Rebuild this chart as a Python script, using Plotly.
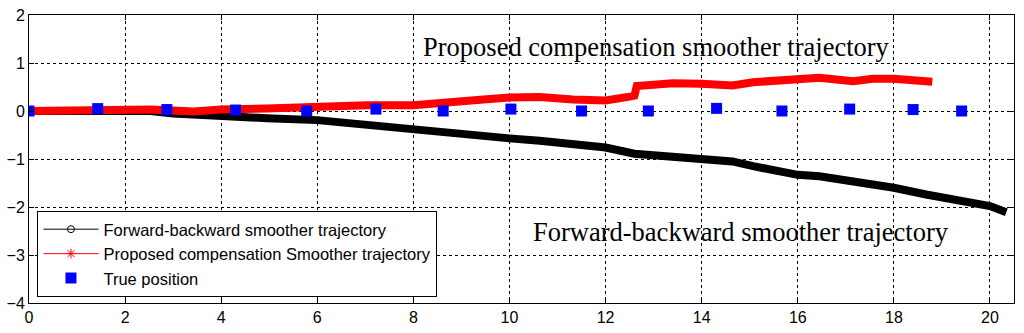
import plotly.graph_objects as go

# Forward-backward smoother trajectory (black)
fb_x = [0, 1.0, 2.0, 2.53, 3.0, 3.43, 4.0, 4.95, 6.0, 6.68, 7.0, 8.0, 8.56, 9.0, 10.0, 10.63,
        11.32, 12.0, 12.6, 13.4, 14.0, 14.37, 14.64, 15.07, 16.0, 16.45, 17.15, 18.0,
        18.67, 19.23, 20.0, 20.34]
fb_y = [0, 0.0, -0.01, 0.0, -0.05, -0.08, -0.12, -0.15, -0.19, -0.26, -0.29, -0.36, -0.43, -0.46,
        -0.57, -0.62, -0.69, -0.76, -0.89, -0.96, -0.98, -1.01, -1.05, -1.15, -1.33, -1.36,
        -1.46, -1.60, -1.74, -1.84, -1.98, -2.11]

# Proposed compensation smoother trajectory (red)
pc_x = [0, 1.0, 1.5, 2.0, 2.53, 3.43, 4.0, 4.95, 6.0, 7.03, 8.0, 8.56, 8.76, 9.46, 10.0, 10.63,
        11.32, 12.0, 12.5, 12.6, 12.65, 13.4, 14.0, 14.37, 14.64, 15.07, 16.0, 16.45, 17.15,
        17.56, 18.0, 18.74, 18.8]
pc_y = [0, 0.02, 0.05, 0.03, 0.03, -0.01, 0.03, 0.05, 0.09, 0.12, 0.12, 0.18, 0.17, 0.24, 0.28,
        0.29, 0.24, 0.22, 0.30, 0.32, 0.52, 0.58, 0.57, 0.53, 0.53, 0.60, 0.65, 0.69, 0.62,
        0.67, 0.67, 0.60, 0.61]

# True position (blue squares)
tp_x = [0, 1.43, 2.87, 4.3, 5.78, 7.22, 8.62, 10.03, 11.5, 12.89, 14.31, 15.67, 17.08, 18.40, 19.41]
tp_y = [0, 0.05, 0.03, 0.02, 0, 0.04, 0, 0.04, 0, 0, 0.055, 0, 0.04, 0.03, 0]

x_ticks = [0, 2, 4, 6, 8, 10, 12, 14, 16, 18, 20]
y_ticks = [-4, -3, -2, -1, 0, 1, 2]

names = ["Forward-backward smoother trajectory",
         "Proposed compensation Smoother trajectory",
         "True position"]

fig = go.Figure()

# data traces
fig.add_trace(go.Scatter(x=fb_x, y=fb_y, mode="lines", line=dict(color="black", width=8),
                         showlegend=False))
fig.add_trace(go.Scatter(x=pc_x, y=pc_y, mode="lines", line=dict(color="red", width=8),
                         showlegend=False))
fig.add_trace(go.Scatter(x=tp_x, y=tp_y, mode="markers",
                         marker=dict(symbol="square", size=11, color="#0000ff"),
                         showlegend=False))

# legend entries
fig.add_trace(go.Scatter(x=[None], y=[None], mode="lines+markers", name=names[0],
                         line=dict(color="black", width=1),
                         marker=dict(symbol="circle-open", size=7, color="black",
                                     line=dict(width=1, color="black"))))
fig.add_trace(go.Scatter(x=[None], y=[None], mode="lines+markers", name=names[1],
                         line=dict(color="red", width=1),
                         marker=dict(symbol="asterisk-open", size=8, color="red",
                                     line=dict(width=1, color="red"))))
fig.add_trace(go.Scatter(x=[None], y=[None], mode="markers", name=names[2],
                         marker=dict(symbol="square", size=11, color="#0000ff")))

fig.add_annotation(x=13.05, y=1.33, text="Proposed compensation smoother trajectory",
                   showarrow=False, font=dict(family="Liberation Serif", size=26.5, color="black"))
fig.add_annotation(x=14.81, y=-2.52, text="Forward-backward smoother trajectory",
                   showarrow=False, font=dict(family="Liberation Serif", size=26.5, color="black"))

axis_common = dict(showline=True, linecolor="black", linewidth=1, mirror="ticks",
                   ticks="inside", ticklen=5, tickcolor="black", automargin=False,
                   showgrid=True, gridcolor="black", gridwidth=1, griddash="3px,3px",
                   zeroline=False, tickfont=dict(family="Liberation Sans", size=16, color="black"))

fig.update_xaxes(range=[0, 20.5], tickvals=x_ticks, **axis_common)
fig.update_yaxes(range=[-4, 2], tickvals=y_ticks, **axis_common)

fig.update_layout(
    width=1024, height=333,
    margin=dict(l=29, r=10, t=15, b=30, autoexpand=False),
    paper_bgcolor="white", plot_bgcolor="white",
    font=dict(family="Liberation Sans", size=16, color="black"),
    legend=dict(x=0.0086, y=0.021, xanchor="left", yanchor="bottom",
                bgcolor="white", bordercolor="black", borderwidth=1,
                font=dict(family="Liberation Sans", size=16.5, color="black"),
                itemwidth=55, tracegroupgap=0),
)

fig.write_html("out.html", config={"displayModeBar": False},
               post_script="document.body.style.margin='0';document.body.style.overflow='hidden';")
